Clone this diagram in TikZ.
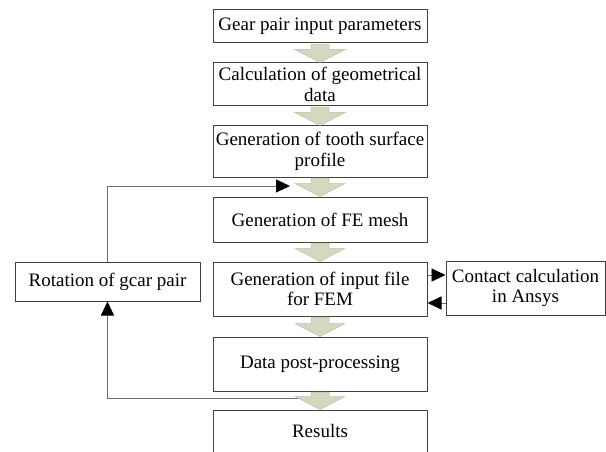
\documentclass[tikz,border=0pt]{standalone}
\usepackage{fontspec}
\setmainfont{Liberation Serif}
\usetikzlibrary{arrows.meta,calc}
\definecolor{blkfill}{HTML}{D5D8C0}
\definecolor{blkline}{HTML}{BDC0A6}
\definecolor{boxline}{HTML}{404040}
\definecolor{conline}{HTML}{707070}
\newcommand{\blockarrow}[2]{%
 \path[fill=blkfill, draw=blkline, line width=0.5pt] let \p1=(#1.south), \p2=(#2.north) in
 (\x1-9pt,\y1-0.6pt) -- (\x1-9pt,\y2+13pt) -- (\x1-25pt,\y2+13pt) -- (\x2,\y2) --
 (\x1+25pt,\y2+13pt) -- (\x1+9pt,\y2+13pt) -- (\x1+9pt,\y1-0.6pt) -- cycle;}
\tikzset{
 box/.style={draw=boxline, line width=1pt, fill=white, inner sep=0pt, align=center,
   font=\fontsize{19}{20.5}\selectfont},
 colbox/.style={box, minimum width=214pt},
 conn/.style={draw=conline, line width=0.9pt, -{Triangle[length=14pt,width=13pt,color=black]}}
}
\begin{document}
\begin{tikzpicture}[x=1pt,y=-1pt]
\useasboundingbox (0,0) rectangle (606,452);
\node[colbox, minimum height=33pt] (b1) at (320,26.5) {Gear pair input parameters};
\node[colbox, minimum height=43pt] (b2) at (320,84.5) {Calculation of geometrical\\data};
\node[colbox, minimum height=51pt] (b3) at (320,151.5) {Generation of tooth surface\\profile};
\node[colbox, minimum height=45pt] (b4) at (320,219.5) {Generation of FE mesh};
\node[colbox, minimum height=54pt] (b5) at (320,289) {Generation of input file\\for FEM};
\node[colbox, minimum height=54pt] (b6) at (320,364) {Data post-processing};
\node[colbox, minimum height=54pt, text height=10pt, text depth=10pt] (b7) at (320,437) {Results};
\node[box, minimum width=185pt, minimum height=39pt] (rot) at (107.5,281.5) {Rotation of gcar pair};
\node[box, minimum width=159pt, minimum height=54pt] (con) at (525.5,288) {Contact calculation\\in Ansys};
\coordinate (lp) at (320,398);
\coordinate (tp) at (290,186);
\draw[conn] (lp) -| (rot.south);
\draw[conn] (rot.north) |- (tp);
\draw[conn] ($(b5.east)+(0,-14)$) -- ($(con.west)+(0,-13)$);
\draw[conn] ($(con.west)+(0,15)$) -- ($(b5.east)+(0,14)$);
\blockarrow{b1}{b2}
\blockarrow{b2}{b3}
\blockarrow{b3}{b4}
\blockarrow{b4}{b5}
\blockarrow{b5}{b6}
\blockarrow{b6}{b7}
\end{tikzpicture}
\end{document}
